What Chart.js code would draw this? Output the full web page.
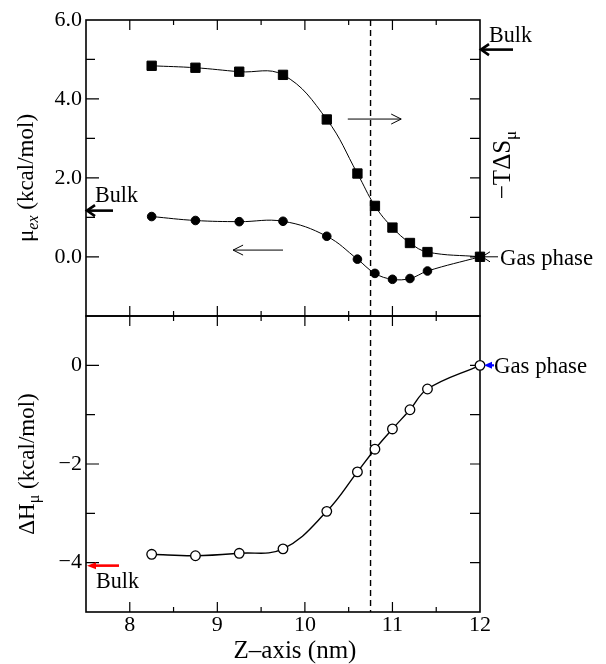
<!DOCTYPE html>
<html><head><meta charset="utf-8">
<script src="https://cdn.jsdelivr.net/npm/chart.js@4.4.0/dist/chart.umd.min.js"></script>
<style>html,body{margin:0;padding:0;background:#fff;}#wrap{width:606px;height:664px;position:relative;}
#fw{position:absolute;left:-9999px;top:0;font-family:"Liberation Serif";}</style>
</head><body><div id="wrap"><canvas id="c" width="606" height="664"></canvas></div>
<div id="fw">Bulk <i>ex</i> 0123456789 μΔ−–</div>
<script>
// ---- data ----
const zPositions = [8.25, 8.75, 9.25, 9.75, 10.25, 10.6, 10.8, 11.0, 11.2, 11.4, 12.0];
const minusTdS   = [4.84, 4.79, 4.69, 4.61, 3.48, 2.11, 1.29, 0.74, 0.35, 0.12, 0.0];
const muEx       = [1.02, 0.92, 0.89, 0.90, 0.52, -0.06, -0.42, -0.57, -0.55, -0.36, 0.0];
const deltaH     = [-3.83, -3.86, -3.81, -3.72, -2.96, -2.16, -1.70, -1.29, -0.90, -0.48, 0.0];
const xTickValues = [8, 9, 10, 11, 12];
const xTickLabels = ['8', '9', '10', '11', '12'];
const topTickValues = [0, 2, 4, 6];
const topTickLabels = ['0.0', '2.0', '4.0', '6.0'];
const botTickValues = [-4, -2, 0];
const botTickLabels = ['\u22124', '\u22122', '0'];
const interfaceZ = 10.75;
// annotation anchors (data units)
const bulkMu = 1.17, bulkTS = 5.25, bulkH = -4.06;
const arrowTS = {from: 10.49, to: 11.10, y: 3.49};
const arrowMu = {from: 9.75, to: 9.18, y: 0.17};

const FONT = '"Liberation Serif", "Times New Roman", Times, serif';
Chart.defaults.font.family = FONT;
Chart.defaults.color = '#000';

function labelFrom(values, labels) {
  return v => {
    const i = values.findIndex(t => Math.abs(t - v) < 1e-6);
    return i >= 0 ? labels[i] : '';
  };
}
function pts(ys) { return zPositions.map((z, i) => ({x: z, y: ys[i]})); }

function richText(ctx, parts, x, y, rot, sx) {
  ctx.save();
  ctx.translate(x, y);
  ctx.scale(sx, 1);
  ctx.rotate(rot);
  let total = 0;
  parts.forEach(p => { ctx.font = p.f; p.w = ctx.measureText(p.t).width; total += p.w; });
  let cx = -total / 2;
  ctx.textAlign = 'left'; ctx.textBaseline = 'alphabetic'; ctx.fillStyle = '#000';
  parts.forEach(p => { ctx.font = p.f; ctx.fillText(p.t, cx, p.dy || 0); cx += p.w; });
  ctx.restore();
}
function plainText(ctx, t, x, y, size, sx, align) {
  ctx.save();
  ctx.translate(x, y);
  ctx.scale(sx, 1);
  ctx.font = size + 'px ' + FONT;
  ctx.textAlign = align || 'left'; ctx.textBaseline = 'alphabetic'; ctx.fillStyle = '#000';
  ctx.fillText(t, 0, 0);
  ctx.restore();
}
function openArrow(ctx, x1, y1, x2, y2, head, half, lw, color) {
  const a = Math.atan2(y2 - y1, x2 - x1);
  ctx.save();
  ctx.strokeStyle = color; ctx.lineWidth = lw; ctx.lineCap = 'butt';
  ctx.beginPath(); ctx.moveTo(x1, y1); ctx.lineTo(x2, y2); ctx.stroke();
  ctx.beginPath();
  ctx.moveTo(x2 - head * Math.cos(a) + half * Math.sin(a), y2 - head * Math.sin(a) - half * Math.cos(a));
  ctx.lineTo(x2, y2);
  ctx.lineTo(x2 - head * Math.cos(a) - half * Math.sin(a), y2 - head * Math.sin(a) + half * Math.cos(a));
  ctx.stroke();
  ctx.restore();
}
function filledArrow(ctx, x1, y1, x2, y2, head, half, lw, color) {
  const a = Math.atan2(y2 - y1, x2 - x1);
  ctx.save();
  ctx.strokeStyle = color; ctx.fillStyle = color; ctx.lineWidth = lw;
  ctx.beginPath(); ctx.moveTo(x1, y1);
  ctx.lineTo(x2 - head * 0.8 * Math.cos(a), y2 - head * 0.8 * Math.sin(a)); ctx.stroke();
  ctx.beginPath();
  ctx.moveTo(x2, y2);
  ctx.lineTo(x2 - head * Math.cos(a) + half * Math.sin(a), y2 - head * Math.sin(a) - half * Math.cos(a));
  ctx.lineTo(x2 - head * Math.cos(a) - half * Math.sin(a), y2 - head * Math.sin(a) + half * Math.cos(a));
  ctx.closePath(); ctx.fill();
  ctx.restore();
}

const framePlugin = {
  id: 'frame',
  beforeDatasetsDraw(chart) {
    const {ctx} = chart;
    const x = chart.scales.x, yT = chart.scales.yTop, yB = chart.scales.yBot;
    const L = x.left, R = x.right;
    ctx.save();
    ctx.strokeStyle = '#000';
    ctx.lineWidth = 1.2;
    ctx.beginPath();
    x.ticks.forEach(t => {
      const px = x.getPixelForValue(t.value);
      if (px <= L + 1 || px >= R - 1) return;
      const len = Math.abs(t.value - Math.round(t.value)) < 1e-6 ? 10 : 5;
      [[yT.top, 1], [yT.bottom, -1], [yB.top, 1], [yB.bottom, -1]].forEach(([py, d]) => {
        ctx.moveTo(px, py); ctx.lineTo(px, py + d * len);
      });
    });
    [yT, yB].forEach(s => {
      s.ticks.forEach(t => {
        const py = s.getPixelForValue(t.value);
        if (py <= s.top + 1 || py >= s.bottom - 1) return;
        const major = Math.abs(t.value % 2) < 1e-6;
        ctx.moveTo(L, py); ctx.lineTo(L + (major ? 13 : 9), py);
        ctx.moveTo(R, py); ctx.lineTo(R - 10, py);
      });
    });
    ctx.stroke();
    ctx.lineWidth = 1.6;
    ctx.strokeRect(L, yT.top, R - L, yT.bottom - yT.top);
    ctx.strokeRect(L, yB.top, R - L, yB.bottom - yB.top);
    const dx = x.getPixelForValue(interfaceZ);
    ctx.lineWidth = 1.4;
    ctx.setLineDash([6, 4]);
    ctx.beginPath(); ctx.moveTo(dx, yT.top); ctx.lineTo(dx, yB.bottom); ctx.stroke();
    ctx.restore();
  },
  afterDatasetsDraw(chart) {
    const {ctx} = chart;
    const x = chart.scales.x, yT = chart.scales.yTop, yB = chart.scales.yBot;
    const L = x.left, R = x.right;
    openArrow(ctx, x.getPixelForValue(arrowTS.from), yT.getPixelForValue(arrowTS.y),
              x.getPixelForValue(arrowTS.to), yT.getPixelForValue(arrowTS.y), 10, 5, 1, '#000');
    openArrow(ctx, x.getPixelForValue(arrowMu.from), yT.getPixelForValue(arrowMu.y),
              x.getPixelForValue(arrowMu.to), yT.getPixelForValue(arrowMu.y), 10, 5, 1, '#000');
    const yMu = yT.getPixelForValue(bulkMu);
    openArrow(ctx, L + 27, yMu, L + 1, yMu, 8, 5.5, 2.6, '#000');
    plainText(ctx, 'Bulk', L + 9, yMu - 9, 24, 0.92);
    const yTS = yT.getPixelForValue(bulkTS);
    openArrow(ctx, R + 33, yTS, R + 1, yTS, 8, 5.5, 2.6, '#000');
    plainText(ctx, 'Bulk', R + 9, yTS - 8, 24, 0.92);
    const y0 = yT.getPixelForValue(0);
    openArrow(ctx, R + 18, y0, R + 2, y0, 8, 5, 1, '#000');
    plainText(ctx, 'Gas phase', R + 20, y0 + 8, 24, 0.95);
    const yH = yB.getPixelForValue(bulkH);
    filledArrow(ctx, L + 33, yH, L + 1, yH, 9, 3.5, 2.6, '#ff0000');
    plainText(ctx, 'Bulk', L + 10, yH + 22, 24, 0.92);
    const yH0 = yB.getPixelForValue(0);
    filledArrow(ctx, R + 14, yH0, R + 4, yH0, 8, 3.5, 2.2, '#0000ff');
    plainText(ctx, 'Gas phase', R + 14, yH0 + 8, 24, 0.95);
    const big = '23px ' + FONT, sub = 'italic 16px ' + FONT, subN = '16px ' + FONT;
    richText(ctx, [{t: '\u03bc', f: big}, {t: 'ex', f: sub, dy: 5}, {t: ' (kcal/mol)', f: big}],
             33, (yT.top + yT.bottom) / 2 + 10, -Math.PI / 2, 1);
    richText(ctx, [{t: '\u0394H', f: big}, {t: '\u03bc', f: subN, dy: 5}, {t: ' (kcal/mol)', f: big}],
             34, (yB.top + yB.bottom) / 2, -Math.PI / 2, 1);
    richText(ctx, [{t: '\u2212T\u0394S', f: '25px ' + FONT}, {t: '\u03bc', f: '17px ' + FONT, dy: 6}],
             R + 30, yT.top + 145, -Math.PI / 2, 1);
    plainText(ctx, 'Z\u2013axis (nm)', (L + R) / 2 + 12, yB.bottom + 46, 25, 1, 'center');
  }
};

function build() {
  new Chart(document.getElementById('c'), {
    type: 'line',
    data: {
      datasets: [
        {label: '\u2212T\u0394S\u03bc', data: pts(minusTdS), yAxisID: 'yTop', borderColor: '#000', borderWidth: 1,
         tension: 0.4, fill: false, clip: false, pointStyle: 'rect', pointRadius: 6.6,
         pointBackgroundColor: '#000', pointBorderColor: '#000', pointBorderWidth: 1},
        {label: '\u03bcex', data: pts(muEx), yAxisID: 'yTop', borderColor: '#000', borderWidth: 1,
         tension: 0.4, fill: false, clip: false, pointStyle: 'circle', pointRadius: 4.3,
         pointBackgroundColor: '#000', pointBorderColor: '#000', pointBorderWidth: 1},
        {label: '\u0394H\u03bc', data: pts(deltaH), yAxisID: 'yBot', borderColor: '#000', borderWidth: 1.4,
         tension: 0.4, fill: false, clip: false, pointStyle: 'circle', pointRadius: 4.8,
         pointBackgroundColor: '#fff', pointBorderColor: '#000', pointBorderWidth: 1.3}
      ]
    },
    options: {
      responsive: false, animation: false, events: [],
      layout: {padding: {left: 0, right: 126, top: 20, bottom: 0}},
      plugins: {legend: {display: false}, tooltip: {enabled: false}},
      scales: {
        x: {type: 'linear', position: 'bottom', min: 7.5, max: 12,
            ticks: {stepSize: 0.5, autoSkip: false, maxRotation: 0, padding: 0, font: {size: 22},
                    callback: labelFrom(xTickValues, xTickLabels)},
            grid: {display: false, drawTicks: false}, border: {display: false},
            afterFit: s => { s.height = 52; }},
        yBot: {type: 'linear', position: 'left', stack: 'panels', stackWeight: 1, min: -5, max: 1,
            ticks: {stepSize: 1, autoSkip: false, padding: 4, font: {size: 22},
                    callback: labelFrom(botTickValues, botTickLabels)},
            grid: {display: false, drawTicks: false}, border: {display: false},
            afterFit: s => { s.width = 86; }},
        yTop: {type: 'linear', position: 'left', stack: 'panels', stackWeight: 1, min: -1.5, max: 6,
            ticks: {stepSize: 1, autoSkip: false, padding: 4, font: {size: 22},
                    callback: labelFrom(topTickValues, topTickLabels)},
            grid: {display: false, drawTicks: false}, border: {display: false},
            afterFit: s => { s.width = 86; }}
      }
    },
    plugins: [framePlugin]
  });
}
let built = false;
function go() { if (!built) { built = true; build(); } }
if (document.fonts && document.fonts.load) {
  Promise.all([
    document.fonts.load('22px "Liberation Serif"'),
    document.fonts.load('italic 16px "Liberation Serif"')
  ]).then(go, go);
  setTimeout(go, 1500);
} else { go(); }
</script></body></html>
